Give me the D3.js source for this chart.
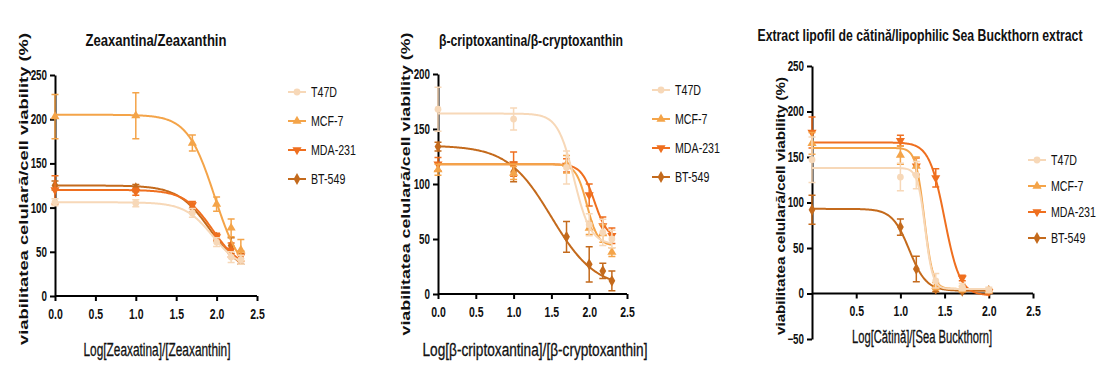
<!DOCTYPE html>
<html>
<head>
<meta charset="utf-8">
<script src="https://cdn.jsdelivr.net/npm/d3@7"></script>
<style>
  body { margin: 0; background: #fff; }
  svg { display: block; }
  .tick text { font-family: "Liberation Sans", Arial, sans-serif; font-size: 14px; font-weight: bold; fill: #111; }
  .domain, .tick line { stroke: #000; stroke-width: 2px; }
  .title { font-family: "Liberation Sans", Arial, sans-serif; font-size: 17px; font-weight: bold; fill: #111; }
  .xlabel { font-family: "Liberation Sans", Arial, sans-serif; font-size: 18px; fill: #111; stroke: #111; stroke-width: 0.3px; }
  .ylabel { font-family: "Liberation Sans", Arial, sans-serif; font-size: 13.5px; font-weight: bold; fill: #111; }
  .legend text { font-family: "Liberation Sans", Arial, sans-serif; font-size: 14px; fill: #111; }
</style>
</head>
<body>
<svg id="chart" width="1100" height="365"></svg>
<script>
const svg = d3.select("#chart")

const cellLines = ["T47D", "MCF-7", "MDA-231", "BT-549"]
const lineColors = ["#f7d8b8", "#f4a449", "#ef6f1f", "#c46a1c"]
const markerShapes = [d3.symbolCircle, d3.symbolTriangle, d3.symbolTriangle, d3.symbolDiamond]

// Zeaxantina / Zeaxanthin
const zeaDose = [0, 1, 1.7, 2, 2.18, 2.3]
const zeaMean = [
    [106, 105, 94, 61, 44, 41],
    [203, 204, 173, 104, 77, 52],
    [120, 118, 103, 67, 52, 45],
    [125, 122, 100, 66, 57, 42]
]
const zeaErr = [
    [4, 4, 5, 5, 6, 5],
    [25, 26, 9, 8, 10, 12],
    [16, 4, 4, 4, 8, 6],
    [5, 4, 5, 4, 9, 6]
]
const zeaTop = [106, 205, 120, 125]
const zeaBottom = [30, 20, 30, 25]
const zeaLogIC50 = [1.95, 1.976, 1.95, 1.92]
const zeaHill = [2.5, 2.58, 2.5, 2.2]

// beta-criptoxantina / beta-cryptoxanthin
const criDose = [0, 1, 1.7, 2, 2.18, 2.3]
const criMean = [
    [168, 159, 115, 63, 56, 50],
    [113, 110, 118, 60, 55, 38],
    [118, 118, 117, 90, 62, 53],
    [134, 111, 52, 27, 21, 12]
]
const criErr = [
    [20, 10, 15, 10, 12, 8],
    [5, 6, 8, 6, 8, 4],
    [6, 11, 6, 10, 8, 7],
    [4, 9, 14, 16, 7, 9]
]
const criTop = [164, 118, 118, 135]
const criBottom = [45, 44, 50, 5]
const criLogIC50 = [1.8, 1.97, 2.07, 1.5]
const criHill = [4, 6, 5, 1.5]

// Extract lipofil de catina / Sea Buckthorn extract
const catDose = [0, 1, 1.18, 1.4, 1.7, 2]
const catMean = [
    [147, 128, 130, 14, 7, 4],
    [165, 152, 140, 8, 5, 3],
    [177, 168, 140, 127, 17, 2],
    [92, 73, 27, 5, 3, 3]
]
const catErr = [
    [25, 15, 15, 8, 4, 3],
    [12, 10, 10, 4, 3, 2],
    [17, 6, 9, 10, 3, 2],
    [16, 9, 14, 3, 2, 2]
]
const catTop = [138, 160, 166, 93]
const catBottom = [5, 5, -2, 3]
const catLogIC50 = [1.28, 1.27, 1.5, 1.1]
const catHill = [10, 9, 5, 4.5]

const xTicks = [0, 0.5, 1, 1.5, 2, 2.5]

// 4-parameter logistic used by the fitted curves
function fourPL(x, top, bottom, ic, hill) {
    return bottom + (top - bottom) / (1 + Math.pow(10, (x - ic) * hill))
}

// the reference uses a condensed face; squeeze the text horizontally
function squeeze(sel, factor) {
    sel.each(function () {
        const w = this.getComputedTextLength()
        d3.select(this).attr("textLength", w * factor).attr("lengthAdjust", "spacingAndGlyphs")
    })
}

const yLabelText = "viabilitatea celulară/cell viability (%)"

const panels = [
    { title: "Zeaxantina/Zeaxanthin", titleX: 156, titleY: 46, titleW: 141,
      xlabel: "Log[Zeaxatina]/[Zeaxanthin]", xlabelX: 157, xlabelY: 356, xlabelW: 147,
      ylabelX: 28, ylabelY: 189, ylabelW: 312,
      xr: [55, 257], yd: [0, 250], yr: [296, 75], yTicks: [0, 50, 100, 150, 200, 250], xMax: 2.3,
      dose: zeaDose, mean: zeaMean, err: zeaErr, top: zeaTop, bottom: zeaBottom, ic: zeaLogIC50, hill: zeaHill,
      legX: 297, legY: 92, legStep: 29, showZero: true },
    { title: "β-criptoxantina/β-cryptoxanthin", titleX: 531, titleY: 46, titleW: 184,
      xlabel: "Log[β-criptoxantina]/[β-cryptoxanthin]", xlabelX: 535, xlabelY: 356, xlabelW: 225,
      ylabelX: 410, ylabelY: 184, ylabelW: 303,
      xr: [438, 627], yd: [0, 200], yr: [294, 74], yTicks: [0, 50, 100, 150, 200], xMax: 2.3,
      dose: criDose, mean: criMean, err: criErr, top: criTop, bottom: criBottom, ic: criLogIC50, hill: criHill,
      legX: 661, legY: 90, legStep: 29, showZero: true },
    { title: "Extract lipofil de cătină/lipophilic Sea Buckthorn extract", titleX: 920, titleY: 41, titleW: 325,
      xlabel: "Log[Cătină]/[Sea Buckthorn]", xlabelX: 922, xlabelY: 343, xlabelW: 140,
      ylabelX: 785, ylabelY: 206, ylabelW: 258,
      xr: [812, 1033], yd: [-50, 250], yr: [339, 66], yTicks: [-50, 0, 50, 100, 150, 200, 250], xMax: 2.0,
      dose: catDose, mean: catMean, err: catErr, top: catTop, bottom: catBottom, ic: catLogIC50, hill: catHill,
      legX: 1037, legY: 160, legStep: 26, showZero: false }
]

panels.forEach(drawPanel)

function drawPanel(p) {
    const x = d3.scaleLinear().domain([0, 2.5]).range(p.xr)
    const y = d3.scaleLinear().domain(p.yd).range(p.yr)
    const g = svg.append("g")

    const xAxis = d3.axisBottom(x)
        .tickValues(p.showZero ? xTicks : xTicks.slice(1))
        .tickFormat(d3.format(".1f"))
        .tickSize(5).tickSizeOuter(0).tickPadding(8)
    const xg = g.append("g")
        .attr("transform", "translate(0," + y(0) + ")")
        .call(xAxis)
    // keep the axis line starting at the y axis even when 0.0 isn't labelled
    xg.select(".domain").attr("d", "M" + p.xr[0] + ",0H" + p.xr[1])
    squeeze(xg.selectAll(".tick text"), 0.75)

    const yg = g.append("g")
        .attr("transform", "translate(" + p.xr[0] + ",0)")
        .call(d3.axisLeft(y).tickValues(p.yTicks).tickSize(5).tickSizeOuter(0).tickPadding(3))
    squeeze(yg.selectAll(".tick text"), 0.7)

    g.append("text").attr("class", "title")
        .attr("x", p.titleX).attr("y", p.titleY)
        .attr("text-anchor", "middle")
        .attr("textLength", p.titleW).attr("lengthAdjust", "spacingAndGlyphs")
        .text(p.title)

    g.append("text").attr("class", "xlabel")
        .attr("x", p.xlabelX).attr("y", p.xlabelY)
        .attr("text-anchor", "middle")
        .attr("textLength", p.xlabelW).attr("lengthAdjust", "spacingAndGlyphs")
        .text(p.xlabel)

    g.append("text").attr("class", "ylabel")
        .attr("transform", "translate(" + p.ylabelX + "," + p.ylabelY + ") rotate(-90)")
        .attr("text-anchor", "middle")
        .attr("textLength", p.ylabelW).attr("lengthAdjust", "spacingAndGlyphs")
        .text(yLabelText)

    const line = d3.line().x(d => x(d[0])).y(d => y(d[1]))
    const steps = d3.range(0, 201).map(i => p.xMax * i / 200)

    // draw from back (BT-549) to front (T47D)
    for (let s = cellLines.length - 1; s >= 0; s--) {
        const col = lineColors[s]
        const sg = g.append("g")

        sg.append("path")
            .datum(steps.map(v => [v, fourPL(v, p.top[s], p.bottom[s], p.ic[s], p.hill[s])]))
            .attr("d", line)
            .attr("fill", "none")
            .attr("stroke", col)
            .attr("stroke-width", 2)

        const pts = p.dose.map((d, i) => ({ dose: d, mean: p.mean[s][i], err: p.err[s][i] }))

        sg.selectAll(".err")
            .data(pts).enter().append("path")
            .attr("d", d => {
                const cx = x(d.dose), y1 = y(d.mean + d.err), y2 = y(d.mean - d.err)
                return "M" + cx + "," + y1 + "V" + y2 +
                    "M" + (cx - 3.5) + "," + y1 + "H" + (cx + 3.5) +
                    "M" + (cx - 3.5) + "," + y2 + "H" + (cx + 3.5)
            })
            .attr("stroke", col)
            .attr("stroke-width", 1.5)
            .attr("fill", "none")

        sg.selectAll(".pt")
            .data(pts).enter().append("path")
            .attr("d", d3.symbol().type(markerShapes[s]).size(s == 3 ? 40 : 36))
            .attr("transform", d => "translate(" + x(d.dose) + "," + y(d.mean) + ")" + (s == 2 ? " rotate(180)" : ""))
            .attr("fill", col)
    }

    // legend
    const leg = g.append("g").attr("class", "legend")
    cellLines.forEach((name, i) => {
        const ly = p.legY + i * p.legStep
        leg.append("line")
            .attr("x1", p.legX - 9).attr("x2", p.legX + 9)
            .attr("y1", ly).attr("y2", ly)
            .attr("stroke", lineColors[i]).attr("stroke-width", 2)
        leg.append("path")
            .attr("d", d3.symbol().type(markerShapes[i]).size(i == 3 ? 40 : 36))
            .attr("transform", "translate(" + p.legX + "," + ly + ")" + (i == 2 ? " rotate(180)" : ""))
            .attr("fill", lineColors[i])
        leg.append("text")
            .attr("x", p.legX + 14).attr("y", ly + 5)
            .text(name)
    })
    squeeze(leg.selectAll("text"), 0.76)
}
</script>
</body>
</html>
